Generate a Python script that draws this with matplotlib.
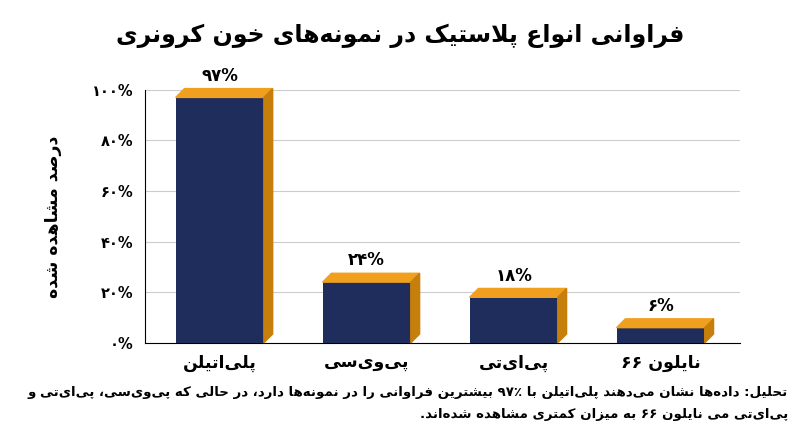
import re
import matplotlib
matplotlib.use("Agg")
import matplotlib.pyplot as plt
from matplotlib.patches import Polygon

plt.rcParams['font.family'] = ['DejaVu Sans']

title = "فراوانی انواع پلاستیک در نمونه‌های خون کرونری"
ylabel = "درصد مشاهده شده"
categories = ["پلی‌اتیلن", "پی‌وی‌سی", "پی‌ای‌تی", "نایلون ۶۶"]
values = [97, 24, 18, 6]
value_labels = ["۹۷%", "۲۴%", "۱۸%", "۶%"]
yticks = [0, 20, 40, 60, 80, 100]
ytick_labels = ["۰%", "۲۰%", "۴۰%", "۶۰%", "۸۰%", "۱۰۰%"]
footer = ["تحلیل: داده‌ها نشان می‌دهند پلی‌اتیلن با ۹۷٪ بیشترین فراوانی را در نمونه‌ها دارد، در حالی که پی‌وی‌سی، پی‌ای‌تی و",
          "پی‌ای‌تی می نایلون ۶۶ به میزان کمتری مشاهده شده‌اند."]

# minimal Persian shaping: char -> (isolated, final, initial, medial)
FORMS = {
    'ا': (0xFE8D, 0xFE8E), 'آ': (0xFE81, 0xFE82), 'د': (0xFEA9, 0xFEAA),
    'ذ': (0xFEAB, 0xFEAC), 'ر': (0xFEAD, 0xFEAE), 'ز': (0xFEAF, 0xFEB0),
    'ژ': (0xFB8A, 0xFB8B), 'و': (0xFEED, 0xFEEE),
    'ب': (0xFE8F, 0xFE90, 0xFE91, 0xFE92), 'پ': (0xFB56, 0xFB57, 0xFB58, 0xFB59),
    'ت': (0xFE95, 0xFE96, 0xFE97, 0xFE98), 'ث': (0xFE99, 0xFE9A, 0xFE9B, 0xFE9C),
    'ج': (0xFE9D, 0xFE9E, 0xFE9F, 0xFEA0), 'چ': (0xFB7A, 0xFB7B, 0xFB7C, 0xFB7D),
    'ح': (0xFEA1, 0xFEA2, 0xFEA3, 0xFEA4), 'خ': (0xFEA5, 0xFEA6, 0xFEA7, 0xFEA8),
    'س': (0xFEB1, 0xFEB2, 0xFEB3, 0xFEB4), 'ش': (0xFEB5, 0xFEB6, 0xFEB7, 0xFEB8),
    'ص': (0xFEB9, 0xFEBA, 0xFEBB, 0xFEBC), 'ض': (0xFEBD, 0xFEBE, 0xFEBF, 0xFEC0),
    'ط': (0xFEC1, 0xFEC2, 0xFEC3, 0xFEC4), 'ظ': (0xFEC5, 0xFEC6, 0xFEC7, 0xFEC8),
    'ع': (0xFEC9, 0xFECA, 0xFECB, 0xFECC), 'غ': (0xFECD, 0xFECE, 0xFECF, 0xFED0),
    'ف': (0xFED1, 0xFED2, 0xFED3, 0xFED4), 'ق': (0xFED5, 0xFED6, 0xFED7, 0xFED8),
    'ک': (0xFB8E, 0xFB8F, 0xFB90, 0xFB91), 'گ': (0xFB92, 0xFB93, 0xFB94, 0xFB95),
    'ل': (0xFEDD, 0xFEDE, 0xFEDF, 0xFEE0), 'م': (0xFEE1, 0xFEE2, 0xFEE3, 0xFEE4),
    'ن': (0xFEE5, 0xFEE6, 0xFEE7, 0xFEE8), 'ه': (0xFEE9, 0xFEEA, 0xFEEB, 0xFEEC),
    'ی': (0xFBFC, 0xFBFD, 0xFBFE, 0xFBFF),
}


def fa(s):
    out = []
    n = len(s)
    i = 0
    while i < n:
        c = s[i]
        if c not in FORMS:
            if c != '\u200c':
                out.append(c)
            i += 1
            continue
        prev = s[i - 1] if i > 0 else ''
        joins_prev = prev in FORMS and len(FORMS[prev]) == 4
        if c == 'ل' and i + 1 < n and s[i + 1] == 'ا':
            out.append(chr(0xFEFC if joins_prev else 0xFEFB))
            i += 2
            continue
        nxt = s[i + 1] if i + 1 < n else ''
        f = FORMS[c]
        joins_next = len(f) == 4 and nxt in FORMS
        if joins_prev and joins_next:
            out.append(chr(f[3]))
        elif joins_prev:
            out.append(chr(f[1]))
        elif joins_next:
            out.append(chr(f[2]))
        else:
            out.append(chr(f[0]))
        i += 1
    shaped = ''.join(out)
    parts = re.split(r'([۰-۹0-9٪%]+)', shaped)
    return ''.join(p if re.fullmatch(r'[۰-۹0-9٪%]+', p) else p[::-1] for p in parts[::-1])


navy = '#1f2d5c'
orange = '#f0a01e'
side = '#c77f0c'

fig = plt.figure(figsize=(8, 4.47), dpi=100)
ax = fig.add_axes([0.181, 0.233, 0.744, 0.566])

x = list(range(len(values)))
w = 0.6
dx, dy = 0.06, 3.5
ax.bar(x, values, width=w, color=navy, zorder=3)
for xi, v, lab in zip(x, values, value_labels):
    l, r = xi - w / 2, xi + w / 2
    ax.add_patch(Polygon([(l, v), (r, v), (r + dx, v + dy), (l + dx, v + dy)],
                         color=orange, zorder=3, clip_on=False))
    ax.add_patch(Polygon([(r, 0), (r + dx, dy), (r + dx, v + dy), (r, v)],
                         color=side, zorder=3, clip_on=False))
    ax.text(xi, v + dy + 1.5, lab, ha='center', va='bottom', fontsize=12, fontweight='bold')

ax.set_xlim(-0.51, 3.54)
ax.set_ylim(0, 100)
ax.set_yticks(yticks)
ax.set_yticklabels(ytick_labels, fontsize=10.5, fontweight='bold')
ax.set_xticks(x)
ax.set_xticklabels([fa(c) for c in categories], fontsize=12.5, fontweight='bold')
ax.tick_params(length=0, pad=8)
ax.grid(axis='y', color='#cccccc', linewidth=0.8, zorder=0)
for s in ['top', 'right']:
    ax.spines[s].set_visible(False)
ax.set_ylabel(fa(ylabel), fontsize=12.5, fontweight='bold', labelpad=22)

fig.text(0.5, 0.905, fa(title), ha='center', fontsize=17, fontweight='bold')
fig.text(0.985, 0.115, fa(footer[0]), ha='right', fontsize=9.6, fontweight='bold')
fig.text(0.985, 0.065, fa(footer[1]), ha='right', fontsize=9.6, fontweight='bold')

fig.savefig('out.png', dpi=100)
